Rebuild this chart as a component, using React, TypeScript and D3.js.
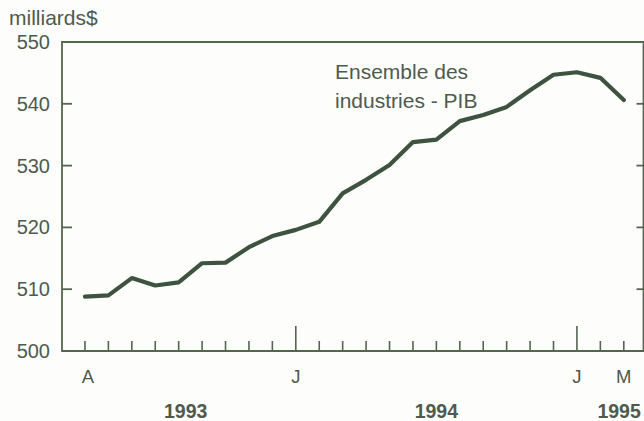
import { useEffect, useRef } from 'react'
import * as d3 from 'd3'

// monthly GDP, all industries, April 1993 -> March 1995 (billions $)
const months = ['A', 'M', 'J', 'J', 'A', 'S', 'O', 'N', 'D', 'J', 'F', 'M',
  'A', 'M', 'J', 'J', 'A', 'S', 'O', 'N', 'D', 'J', 'F', 'M']
const gdp = [508.8, 509.0, 511.8, 510.6, 511.1, 514.2, 514.3, 516.8, 518.6, 519.6, 520.9, 525.5,
  527.7, 530.1, 533.8, 534.2, 537.2, 538.2, 539.5, 542.2, 544.7, 545.1, 544.2, 540.6]
const yTicks = [500, 510, 520, 530, 540, 550]
const monthLabels = [{ i: 0, t: 'A' }, { i: 9, t: 'J' }, { i: 21, t: 'J' }, { i: 23, t: 'M' }]
const years = [{ i: 4.3, t: '1993' }, { i: 15, t: '1994' }, { i: 22.8, t: '1995' }]
const note = ['Ensemble des', 'industries - PIB']

const AXIS = '#55664f'
const LINE = '#3d5340'
const TEXT = '#4f5a4d'
const FONT = '"Liberation Sans", Arial, Helvetica, sans-serif'

export default function App() {
  const svgRef = useRef<SVGSVGElement>(null)

  useEffect(() => {
    if (!svgRef.current) return
    const svg = d3.select(svgRef.current)
    svg.selectAll('*').remove()

    const W = 644, H = 421
    const m = { top: 42, bottom: 351, left: 62, right: 643.5 }
    svg.attr('width', W).attr('height', H).style('font-family', FONT)

    const x = d3.scaleLinear().domain([-0.98, 23.82]).range([m.left, 643])
    const y = d3.scaleLinear().domain([500, 550]).range([m.bottom, m.top])

    svg.append('rect').attr('width', W).attr('height', H).attr('fill', '#fdfdfc')

    // frame
    svg.append('path')
      .attr('d', `M${m.left},${m.bottom}V${m.top}H${m.right}V${m.bottom}Z`)
      .attr('fill', 'none').attr('stroke', AXIS).attr('stroke-width', 1.8)

    // y ticks (both sides, inward)
    yTicks.slice(1, -1).forEach(v => {
      svg.append('line').attr('x1', m.left).attr('x2', m.left + 10)
        .attr('y1', y(v)).attr('y2', y(v)).attr('stroke', AXIS).attr('stroke-width', 1.8)
      svg.append('line').attr('x1', m.right - 7).attr('x2', m.right)
        .attr('y1', y(v)).attr('y2', y(v)).attr('stroke', AXIS).attr('stroke-width', 1.8)
    })
    yTicks.forEach(v => {
      svg.append('text').attr('x', 50).attr('y', y(v) + 7)
        .attr('text-anchor', 'end').attr('fill', TEXT).attr('font-size', 20)
        .text(v)
    })

    svg.append('text').attr('x', 9).attr('y', 25)
      .attr('fill', TEXT).attr('font-size', 21).text('milliards$')

    // month ticks
    months.forEach((mo, i) => {
      const tall = mo === 'J' && (i === 9 || i === 21)
      svg.append('line').attr('x1', x(i)).attr('x2', x(i))
        .attr('y1', m.bottom).attr('y2', m.bottom - (tall ? 25 : 10))
        .attr('stroke', AXIS).attr('stroke-width', 1.6)
    })
    monthLabels.forEach(d => {
      svg.append('text').attr('x', x(d.i) + (d.i === 0 ? 3 : 0)).attr('y', 383)
        .attr('text-anchor', 'middle').attr('fill', TEXT).attr('font-size', 18.5)
        .text(d.t)
    })
    years.forEach(d => {
      svg.append('text').attr('x', x(d.i)).attr('y', 418)
        .attr('text-anchor', 'middle').attr('fill', TEXT).attr('font-size', 19.5)
        .attr('font-weight', 'bold').text(d.t)
    })

    // series
    const line = d3.line<number>().x((_, i) => x(i)).y(d => y(d))
    svg.append('path').datum(gdp).attr('d', line)
      .attr('fill', 'none').attr('stroke', LINE).attr('stroke-width', 4.2)
      .attr('stroke-linejoin', 'round').attr('stroke-linecap', 'round')

    note.forEach((t, i) => {
      svg.append('text').attr('x', 335).attr('y', 79 + i * 29)
        .attr('fill', TEXT).attr('font-size', 21).text(t)
    })
  }, [])

  return (
    <div style={{ position: 'absolute', left: 0, top: 0 }}>
      <svg ref={svgRef} style={{ display: 'block' }} />
    </div>
  )
}
